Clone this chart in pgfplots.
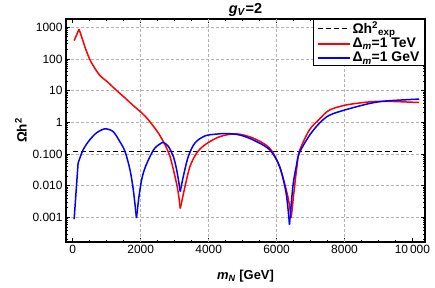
\documentclass[border=0pt]{standalone}
\usepackage{pgfplots}
\pgfplotsset{compat=1.18}
\usepackage{fontspec}
\setmainfont{Liberation Sans}
\begin{document}
\begin{tikzpicture}
\useasboundingbox (0,0) rectangle (435bp,288bp);
\begin{axis}[
  at={(66bp,46bp)}, anchor=south west,
  width=359bp, height=223bp, scale only axis,
  xmin=-200, xmax=10370,
  ymode=log, ymin=1.66e-4, ymax=1820,
  axis line style={line width=1.2bp},
  tick align=inside,
  major tick length=4bp, minor tick length=2.2bp,
  every tick/.style={black, line width=0.6bp},
  scaled x ticks=false,
  xtick={0,2000,4000,6000,8000,10000},
  xticklabels={0,2000,4000,6000,8000,10\,000},
  minor xtick={500,1000,1500,2500,3000,3500,4500,5000,5500,6500,7000,7500,8500,9000,9500},
  ytick={0.001,0.01,0.1,1,10,100,1000},
  yticklabels={0.001,0.010,0.100,1,10,100,1000},
  minor ytick={2e-4,3e-4,4e-4,5e-4,6e-4,7e-4,8e-4,9e-4,
    2e-3,3e-3,4e-3,5e-3,6e-3,7e-3,8e-3,9e-3,
    2e-2,3e-2,4e-2,5e-2,6e-2,7e-2,8e-2,9e-2,
    0.2,0.3,0.4,0.5,0.6,0.7,0.8,0.9,
    2,3,4,5,6,7,8,9,20,30,40,50,60,70,80,90,
    200,300,400,500,600,700,800,900},
  ymajorgrids=true,
  extra x ticks={2000,4000,6000,8000},
  extra x tick labels={},
  extra x tick style={xmajorgrids=true, major tick length=0pt},
  major grid style={gray!60, dash pattern=on 3bp off 2bp, line width=0.6bp},
  ticklabel style={font=\fontsize{12}{14}\selectfont},
  title={\textbf{\textit{g}\textsubscript{\textit{V}}=2}},
  title style={font=\fontsize{14.5}{16}\selectfont, at={(0.5,1)}, anchor=south, yshift=-7bp},
  xlabel={\textbf{\textit{m}\textsubscript{\textit{N}} [GeV]}},
  xlabel style={font=\fontsize{13}{15}\selectfont, yshift=-9bp},
  ylabel={\textbf{Ωh\textsuperscript{2}}},
  ylabel style={font=\fontsize{13.5}{15}\selectfont, yshift=-1bp},
  legend style={at={(rel axis cs:1,1)}, anchor=north east, draw=black, line width=1.2bp,
    fill=white, font=\fontsize{14}{15}\selectfont\bfseries, inner xsep=3bp, inner ysep=0.5bp,
    row sep=0bp, nodes={inner ysep=1.5bp}},
  legend cell align=left,
  legend image code/.code={\draw[#1, line width=1.7bp] (0bp,0bp) -- (32bp,0bp);},
]
\addplot[black, line width=1.3bp, dash pattern=on 5bp off 3bp] coordinates {(0,0.12) (10000,0.12)};
\addlegendentry{Ωh\textsuperscript{2}\textsubscript{exp}}
% red, Delta_m = 1 TeV
\addplot[red, line width=1.5bp] coordinates {(40,380) (185,870)};
\addlegendentry{Δ\textsubscript{\textit{m}}=1 TeV}
% blue, Delta_m = 1 GeV
\addplot[blue, line width=1.5bp] coordinates {(40,0.00087) (156,0.051)};
\addlegendentry{Δ\textsubscript{\textit{m}}=1 GeV}
\addplot[red, line width=1.5bp, smooth, forget plot] coordinates {
 (185,870) (291,398) (389,191) (536,81) (781,31.6) (1030,18.4) (1272,10.5) (1520,6.1)
 (1763,3.5) (2037,1.95) (2223,1.2) (2517,0.46) (2714,0.195) (2862,0.083) (3009,0.0195)
 (3100,0.0065) (3165,0.0019)};
\addplot[red, line width=1.5bp, smooth, forget plot] coordinates {
 (3165,0.0019) (3303,0.0093) (3450,0.04) (3647,0.107) (3892,0.195) (4320,0.35)
 (4810,0.43) (5300,0.32) (5790,0.155) (6085,0.041) (6330,0.0046) (6430,0.00095)};
\addplot[red, line width=1.5bp, smooth, forget plot] coordinates {
 (6430,0.00095) (6530,0.0095) (6600,0.04) (6670,0.12) (6960,0.56) (7260,1.25)
 (7550,2.4) (8040,3.5) (8730,4.4) (9220,4.6) (10200,4.2)};
\addplot[blue, line width=1.5bp, smooth, forget plot] coordinates {
 (156,0.051) (303,0.135) (500,0.28) (696,0.46) (940,0.62) (1186,0.51) (1380,0.25)
 (1537,0.12) (1684,0.0316) (1781,0.0074) (1875,0.00095)};
\addplot[blue, line width=1.5bp, smooth, forget plot] coordinates {
 (1875,0.00095) (1950,0.0046) (2028,0.0155) (2125,0.036) (2273,0.083) (2420,0.155)
 (2617,0.224) (2665,0.234) (2812,0.174) (2960,0.083) (3058,0.0316) (3165,0.0065)};
\addplot[blue, line width=1.5bp, smooth, forget plot] coordinates {
 (3165,0.0065) (3254,0.0195) (3401,0.083) (3598,0.224) (3892,0.37) (4200,0.42)
 (4520,0.44) (4900,0.40) (5300,0.28) (5790,0.138) (6085,0.041) (6280,0.0059) (6380,0.00059)};
\addplot[blue, line width=1.5bp, smooth, forget plot] coordinates {
 (6380,0.00059) (6480,0.0095) (6580,0.041) (6670,0.107) (6965,0.38) (7260,0.93)
 (7550,1.66) (8040,2.5) (8730,3.9) (9220,4.7) (10200,5.4)};
\end{axis}
\end{tikzpicture}
\end{document}
